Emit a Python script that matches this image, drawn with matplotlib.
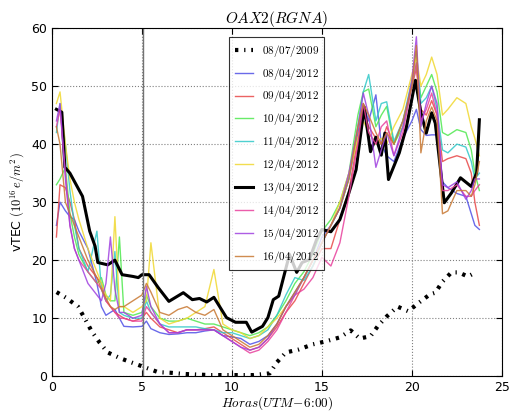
import matplotlib
matplotlib.use("Agg")
import matplotlib.pyplot as plt

plt.rcParams['mathtext.fontset'] = 'cm'

# Common time grid for the 2012 days (hours)
t = [0.25, 0.45, 0.75, 1.0, 1.25, 1.5, 2.0, 2.5, 2.75, 3.0,
     3.25, 3.5, 3.75, 4.0, 4.5, 5.0, 5.25, 5.5, 6.0, 6.5,
     7.0, 7.5, 8.0, 8.5, 9.0, 9.5, 10.0, 10.5, 11.0, 11.5,
     12.0, 12.5, 13.0, 13.5, 14.0, 14.5, 15.0, 15.5, 16.0, 16.5,
     17.0, 17.3, 17.6, 18.0, 18.3, 18.6, 19.0, 19.5, 20.0, 20.25,
     20.5, 20.8, 21.1, 21.4, 21.7, 22.0, 22.5, 23.0, 23.3, 23.5, 23.75]

d0804 = [26, 30, 28.5, 27.5, 27, 25, 22, 16, 12, 10.5,
         11, 11.5, 10, 8.6, 8.5, 8.6, 9.5, 8.2, 7.5, 7.2,
         7.3, 7.5, 7.5, 7.8, 8, 7, 6.8, 6.5, 5.5, 6,
         7, 9, 12, 14.5, 17, 20, 24, 26, 29, 34,
         42, 47, 44, 48.5, 40, 38, 37, 41, 44, 46,
         42.5, 41.5, 41.6, 41.6, 33.5, 32.5, 31.5, 31, 28, 26, 25.3]
d0904 = [24, 33, 32.5, 30, 27, 22, 19, 17, 16, 13,
         12, 11, 10.5, 10, 9.5, 10, 11, 10, 8.5, 8,
         7.5, 8, 8, 8.2, 8.5, 7.5, 6.5, 5.5, 4.5, 5,
         6.5, 8.5, 11, 13, 16, 19, 22, 22, 27, 32,
         41, 46, 43, 41, 40, 43, 40, 44, 50, 53,
         46, 45, 47.5, 45, 37, 37.5, 38, 37.5, 35, 30, 26]
d1004 = [33, 34, 36, 28, 24, 21, 18, 16, 17, 14,
         13, 13, 24, 11, 10.5, 11, 14, 12, 10, 9.5,
         9.5, 10, 9.5, 9, 9, 8.5, 8, 7.5, 7, 7.5,
         8.5, 10.5, 13, 16, 18, 21, 25, 27, 30, 35,
         45, 49, 49.5, 43, 45, 46.5, 40, 43, 50, 54,
         48, 50, 52, 49, 42, 41.5, 42.5, 42, 39, 35, 32]
d1104 = [42, 47, 40, 32, 26, 22, 18, 25, 15, 13,
         14, 21.5, 11, 10.5, 10, 10, 13, 11, 9, 8.5,
         8.5, 8.5, 8.5, 8.2, 8, 7.5, 7.5, 7, 6.5, 7,
         8, 10.5, 14, 17, 16.5, 19, 23, 26, 29, 34,
         43, 49, 52, 44, 47, 47.3, 40.5, 44, 51, 56,
         47, 48, 50, 46, 39, 38.5, 40, 39.5, 37, 34, 35]
d1204 = [47, 49, 40, 34, 30, 27, 22, 18, 16, 14,
         13, 27.5, 12, 12, 11, 12, 13, 23, 10, 9,
         9.5, 10, 11, 12, 18.4, 9, 8, 7.5, 6.5, 7,
         8.5, 10, 12, 14, 17, 20, 23, 26, 30, 35,
         41, 44, 42, 40, 41, 40, 43, 46, 52, 55,
         50, 52, 55, 52, 45, 46, 48, 47, 43, 41, 38]
d1404 = [43, 46, 35, 26, 22, 20, 18, 16, 15, 13,
         12, 11, 10, 10, 9.5, 9.5, 12, 11, 9, 7.5,
         7.5, 8, 8, 8, 8, 7, 6, 5, 4, 4.5,
         6, 8, 11, 14, 15, 17, 20.5, 19, 23, 31,
         40, 47, 42, 40, 43, 44, 38, 42, 50, 54,
         44, 46, 48.8, 45, 32, 32, 33, 31, 31, 32, 33]
d1504 = [44, 47, 34, 26, 22, 20, 16, 14, 13, 16,
         24, 15, 11, 11, 10, 10.5, 15.5, 12, 9, 7.5,
         7.5, 8, 8, 8, 8, 7, 6, 5, 4.5, 5,
         6.5, 9, 12, 14, 17, 20, 23, 26, 29, 35,
         43, 48.8, 45, 36, 39, 42, 38, 43, 51, 58.5,
         43, 47, 50, 47, 33, 32.5, 33.5, 30.5, 32, 34, 34]
d1604 = [43, 40, 30, 28, 26, 24, 20, 17, 15, 13.5,
         12, 11.5, 12, 12, 13, 14, 16, 14.5, 11, 10.5,
         11.5, 12, 11, 10.5, 11.5, 8, 7, 6, 5, 5.5,
         7, 9, 12, 14.5, 17, 20, 23, 26, 29, 34,
         43, 47, 45, 42, 40, 42, 40, 44, 50, 57,
         38.5, 44, 46.4, 44, 28, 28.5, 32, 32, 31, 33, 37]

# 13/04/2012 (thick black)
t1304 = [0.25, 0.55, 0.72, 1.0, 1.7, 2.1, 2.4, 2.55, 3.1, 3.5,
         3.9, 4.5, 4.8, 5.0, 5.4, 5.9, 6.5, 7.3, 7.8, 8.2,
         8.6, 9.0, 9.7, 10.2, 10.8, 11.1, 11.7, 12.0, 12.3, 12.6,
         13.2, 13.6, 13.9, 14.3, 14.7, 15.0, 15.5, 16.0, 16.5, 16.9,
         17.35, 17.7, 18.0, 18.3, 18.5, 18.7, 19.3, 19.7, 20.2, 20.5,
         20.8, 21.1, 21.3, 21.8, 22.2, 22.7, 23.3, 23.6, 23.75]
d1304 = [46, 45.5, 36, 35, 31, 25, 22.4, 19.6, 19.2, 20,
         17.5, 17.2, 17, 17.5, 17.5, 15.3, 12.9, 14.4, 13.2, 13.4,
         12.8, 13.6, 10.1, 9.3, 9.3, 7.6, 8.6, 10.1, 13.2, 13.8,
         21, 17.9, 19.6, 20.1, 23.5, 25.3, 24.9, 27, 31.6, 35.6,
         46.4, 38.7, 41.2, 38.1, 41.9, 33.9, 38.5, 43, 51, 45.4,
         41.9, 45.4, 43.6, 29.9, 31.6, 34.2, 32.7, 35.1, 44.2]

# 08/07/2009 (dotted)
t2009 = [0.26, 0.8, 1.45, 1.8, 2.2, 2.65, 3.1, 3.8, 4.4, 5.2,
         5.9, 6.6, 7.3, 8.0, 8.8, 9.6, 10.4, 11.2, 12.1, 12.5,
         13.0, 13.7, 14.5, 15.2, 16.0, 16.6, 17.1, 17.7, 18.1, 18.6,
         19.2, 19.8, 20.4, 21.0, 21.3, 21.7, 22.2, 22.6, 23.1, 23.3, 23.6]
d2009 = [14.5, 13.5, 12, 10.1, 7.8, 5.8, 4.1, 3.1, 2.4, 1.5,
         0.7, 0.6, 0.4, 0.3, 0.2, 0.2, 0.2, 0.2, 0.5, 2.4,
         4.1, 4.6, 5.5, 6.0, 6.7, 7.9, 6.5, 6.9, 8.6, 10.3,
         12, 11.2, 12.7, 14.1, 14.4, 16.3, 17.9, 17.9, 17.2, 17.5, 18.0]

fig = plt.figure(figsize=(5.09, 4.13), dpi=100)
ax = fig.add_axes([0.102, 0.089, 0.884, 0.843])

ax.plot(t2009, d2009, color='black', lw=3, ls=(0, (0.8, 1.4, 0.3, 1.4)),
        label=r'$\mathrm{08/07/2009}$')

series = [
    (d0804, '#5050e6', r'$\mathrm{08/04/2012}$'),
    (d0904, '#e84848', r'$\mathrm{09/04/2012}$'),
    (d1004, '#4fe84f', r'$\mathrm{10/04/2012}$'),
    (d1104, '#30c8c8', r'$\mathrm{11/04/2012}$'),
    (d1204, '#f0d830', r'$\mathrm{12/04/2012}$'),
]
for vals, c, lab in series:
    ax.plot(t, vals, color=c, lw=1.0, alpha=0.85, label=lab)

ax.plot(t1304, d1304, color='black', lw=2.2, label=r'$\mathrm{13/04/2012}$')

series2 = [
    (d1404, '#e8409c', r'$\mathrm{14/04/2012}$'),
    (d1504, '#a040e0', r'$\mathrm{15/04/2012}$'),
    (d1604, '#c87832', r'$\mathrm{16/04/2012}$'),
]
for vals, c, lab in series2:
    ax.plot(t, vals, color=c, lw=1.0, alpha=0.85, label=lab)

ax.axvline(5.05, color='0.45', lw=1.0)

ax.set_xlim(0, 25)
ax.set_ylim(0, 60)
ax.set_xticks([0, 5, 10, 15, 20, 25])
ax.set_yticks([0, 10, 20, 30, 40, 50, 60])
ax.grid(True, ls=':', color='0.5', lw=0.8)
ax.tick_params(direction='in', top=True, right=True, labelsize=9, length=4)

ax.set_title(r'$OAX2(RGNA)$', fontsize=11, pad=4)
ax.set_xlabel(r'$Horas(UTM\!-\!6\!:\!00)$', fontsize=9.5, labelpad=0)
ax.set_ylabel(r'vTEC $(10^{16}\,e/m^2)$', fontsize=9, labelpad=4)

leg = ax.legend(loc='upper center', bbox_to_anchor=(0.5, 0.99), fontsize=8,
                labelspacing=0.62, handlelength=1.6, borderpad=0.5,
                fancybox=False, edgecolor='black')
leg.get_frame().set_linewidth(0.8)

fig.savefig('out.png', dpi=100)
